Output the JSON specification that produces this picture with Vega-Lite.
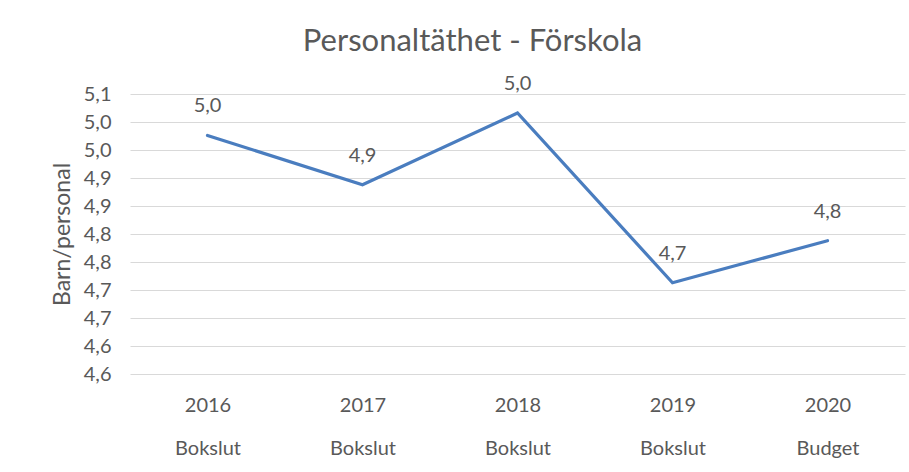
{
  "$schema": "https://vega.github.io/schema/vega-lite/v6.json",
  "width": 775,
  "height": 280,
  "autosize": "none",
  "padding": {"left": 130, "top": 94, "right": 4, "bottom": 98},
  "background": "white",
  "title": {
    "text": "Personaltäthet - Förskola",
    "font": "Lato",
    "fontSize": 31,
    "fontWeight": "normal",
    "color": "#595959",
    "anchor": "middle",
    "baseline": "alphabetic",
    "offset": -8,
    "dx": -45
  },
  "data": {
    "values": [
      {"kategori": "2016 Bokslut", "varde": 4.976},
      {"kategori": "2017 Bokslut", "varde": 4.888},
      {"kategori": "2018 Bokslut", "varde": 5.016},
      {"kategori": "2019 Bokslut", "varde": 4.713},
      {"kategori": "2020 Budget", "varde": 4.788}
    ]
  },
  "encoding": {
    "x": {
      "field": "kategori",
      "type": "nominal",
      "sort": null,
      "scale": {"type": "point", "padding": 0.5},
      "axis": {
        "title": null,
        "labelExpr": "split(datum.label, ' ')",
        "labelAngle": 0,
        "labelFont": "Lato",
        "labelFontSize": 20,
        "labelColor": "#595959",
        "labelLineHeight": 43,
        "labelPadding": 21,
        "domain": false,
        "ticks": false,
        "grid": false
      }
    },
    "y": {
      "field": "varde",
      "type": "quantitative",
      "scale": {"domain": [4.55, 5.05], "nice": false, "zero": false},
      "axis": {
        "title": "Barn/personal",
        "titleFont": "Lato",
        "titleFontSize": 23,
        "titleFontWeight": "normal",
        "titleColor": "#595959",
        "titlePadding": 9,
        "values": [4.55, 4.6, 4.65, 4.7, 4.75, 4.8, 4.85, 4.9, 4.95, 5.0, 5.05],
        "labelExpr": "replace(format(datum.value + 0.000001, '.1f'), '.', ',')",
        "labelFont": "Lato",
        "labelFontSize": 20,
        "labelColor": "#595959",
        "labelPadding": 19,
        "domain": false,
        "ticks": false,
        "grid": true,
        "gridColor": "#d9d9d9",
        "gridWidth": 1
      }
    }
  },
  "layer": [
    {
      "mark": {"type": "line", "color": "#4a7dbf", "strokeWidth": 3.2, "strokeCap": "round", "strokeJoin": "miter"}
    },
    {
      "mark": {"type": "text", "font": "Lato", "fontSize": 20, "color": "#595959", "baseline": "middle", "dy": -29},
      "encoding": {
        "text": {"field": "varde", "type": "quantitative", "format": ".1f", "formatType": "number"}
      }
    }
  ],
  "config": {
    "view": {"stroke": null},
    "locale": {"number": {"decimal": ",", "thousands": " ", "grouping": [3], "currency": ["", " kr"]}}
  }
}
